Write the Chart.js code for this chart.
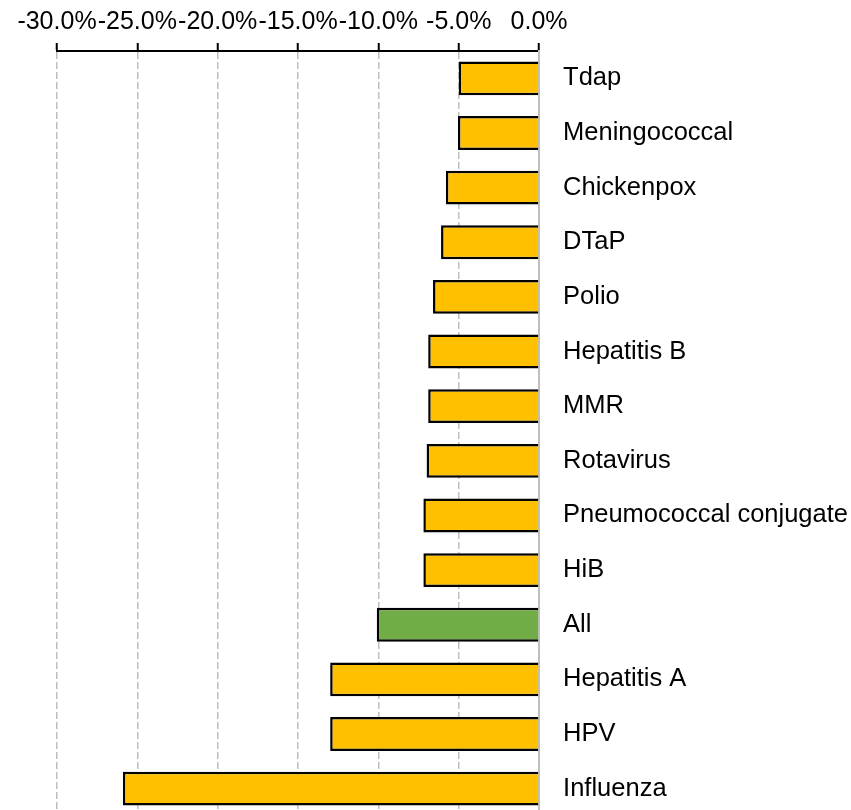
<!DOCTYPE html>
<html>
<head>
<meta charset="utf-8">
<script src="https://cdn.jsdelivr.net/npm/chart.js@4"></script>
<style>
    html, body { margin: 0; padding: 0; background: #fff; overflow: hidden; }
</style>
</head>
<body>
<canvas id="chart" width="851" height="816"></canvas>
<script>
// vaccines, top to bottom
var vaccines = ["Tdap", "Meningococcal", "Chickenpox", "DTaP", "Polio", "Hepatitis B", "MMR",
    "Rotavirus", "Pneumococcal conjugate", "HiB", "All", "Hepatitis A", "HPV", "Influenza"];

// percent change
var changes = [-5.0, -5.05, -5.8, -6.1, -6.6, -6.9, -6.9, -7.0, -7.2, -7.2, -10.1, -13.0, -13.0, -25.9];

var tickValues = [-30, -25, -20, -15, -10, -5, 0];

var barColor = "#FFC000";
var allColor = "#70AD47";

var colors = vaccines.map(function (name) {
    return name === "All" ? allColor : barColor;
});

var fontFamily = "'Liberation Sans', Arial, sans-serif";

var canvas = document.getElementById("chart");

var chart = new Chart(canvas, {
    type: "bar",
    data: {
        labels: vaccines,
        datasets: [{
            data: changes,
            backgroundColor: colors,
            borderColor: "#000",
            borderWidth: 2.5,
            barPercentage: 0.62,
            categoryPercentage: 1
        }]
    },
    options: {
        indexAxis: "y",
        responsive: false,
        animation: false,
        layout: {
            padding: { left: 57, right: 3, top: 1, bottom: 0 }
        },
        plugins: {
            legend: { display: false },
            tooltip: { enabled: false }
        },
        scales: {
            x: {
                position: "top",
                min: -30,
                max: 0,
                afterBuildTicks: function (scale) {
                    scale.ticks = tickValues.map(function (v) { return { value: v }; });
                },
                afterFit: function (scale) {
                    // the last label may hang over the category labels
                    scale.paddingRight = 0;
                },
                grid: {
                    color: "#bfbfbf",
                    lineWidth: 1.5,
                    tickColor: "#000",
                    tickWidth: 2,
                    tickLength: 8,
                    tickBorderDash: []
                },
                border: { display: true, color: "#000", width: 2, dash: [7, 3] },
                ticks: {
                    color: "#000",
                    padding: 6,
                    maxRotation: 0,
                    autoSkip: false,
                    font: { family: fontFamily, size: 25 },
                    callback: function (v) { return Number(v).toFixed(1) + "%"; }
                }
            },
            y: {
                position: "right",
                afterFit: function (scale) {
                    // the bars run to the bottom edge
                    scale.paddingTop = 0;
                    scale.paddingBottom = 0;
                    scale.width -= 24;
                },
                grid: { display: false, drawTicks: false },
                border: { display: true, color: "#bfbfbf", width: 2 },
                ticks: {
                    color: "#000",
                    padding: 24,
                    font: { family: fontFamily, size: 25.5 }
                }
            }
        }
    }
});
</script>
</body>
</html>
